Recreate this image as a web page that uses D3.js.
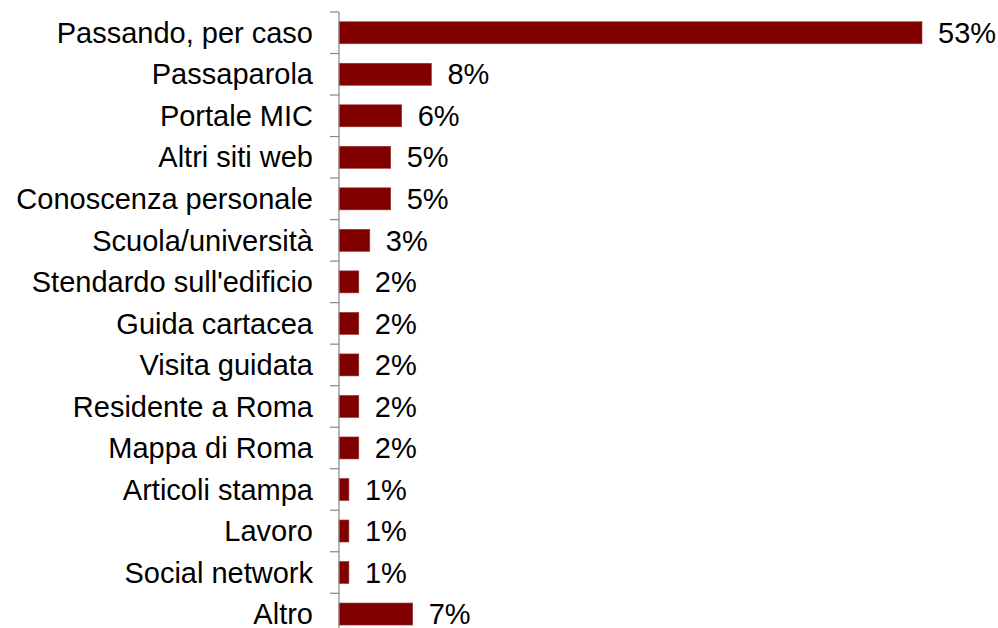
<!DOCTYPE html>
<html>
<head>
<meta charset="utf-8">
<script src="https://cdn.jsdelivr.net/npm/d3@7"></script>
<style>
  body { margin: 0; background: #fff; }
  svg text { font-family: "Liberation Sans", Arial, sans-serif; fill: #000; }
</style>
</head>
<body>
<svg id="chart" width="998" height="628"></svg>
<script>
// categorie e valori (percentuali)
const categories = [
  "Passando, per caso", "Passaparola", "Portale MIC", "Altri siti web",
  "Conoscenza personale", "Scuola/università", "Stendardo sull'edificio",
  "Guida cartacea", "Visita guidata", "Residente a Roma", "Mappa di Roma",
  "Articoli stampa", "Lavoro", "Social network", "Altro"
];
const values = [53, 8.4, 5.7, 4.7, 4.7, 2.8, 1.8, 1.8, 1.8, 1.8, 1.8, 0.9, 0.9, 0.9, 6.7];
const valueLabels = ["53%", "8%", "6%", "5%", "5%", "3%", "2%", "2%", "2%", "2%", "2%", "1%", "1%", "1%", "7%"];

const svg = d3.select("#chart");
const axisX = 339;
const plotTop = 12, bandH = 41.52;

const y = d3.scaleBand()
  .domain(categories)
  .range([plotTop, plotTop + bandH * categories.length])
  .paddingInner(0.47)
  .paddingOuter(0.235);

const x = d3.scaleLinear()
  .domain([0, 53])
  .range([axisX, 922]);

const data = categories.map((c, i) => ({ name: c, value: values[i], label: valueLabels[i] }));

// barre
svg.selectAll("rect.bar")
  .data(data)
  .enter().append("rect")
  .attr("class", "bar")
  .attr("x", x(0))
  .attr("y", d => y(d.name))
  .attr("width", d => x(d.value) - x(0))
  .attr("height", y.bandwidth())
  .attr("fill", "#800000")
  .attr("stroke", "#9a3333")
  .attr("stroke-width", 0.6);

// asse verticale con tacche tra le categorie
svg.append("line")
  .attr("x1", axisX).attr("x2", axisX)
  .attr("y1", plotTop).attr("y2", 628)
  .attr("stroke", "#868686").attr("stroke-width", 1.2);

const tickYs = d3.range(categories.length + 1).map(i => plotTop + i * bandH);
svg.selectAll("line.tick")
  .data(tickYs)
  .enter().append("line")
  .attr("class", "tick")
  .attr("x1", axisX - 9).attr("x2", axisX)
  .attr("y1", d => d).attr("y2", d => d)
  .attr("stroke", "#868686").attr("stroke-width", 1.2);

// etichette categorie
svg.selectAll("text.cat")
  .data(data)
  .enter().append("text")
  .attr("class", "cat")
  .attr("x", 313)
  .attr("y", d => y(d.name) + y.bandwidth() / 2)
  .attr("dy", "0.35em")
  .attr("text-anchor", "end")
  .style("font-size", "29px")
  .text(d => d.name);

// etichette valori
svg.selectAll("text.val")
  .data(data)
  .enter().append("text")
  .attr("class", "val")
  .attr("x", d => x(d.value) + 16)
  .attr("y", d => y(d.name) + y.bandwidth() / 2)
  .attr("dy", "0.35em")
  .style("font-size", "29px")
  .text(d => d.label);
</script>
</body>
</html>
